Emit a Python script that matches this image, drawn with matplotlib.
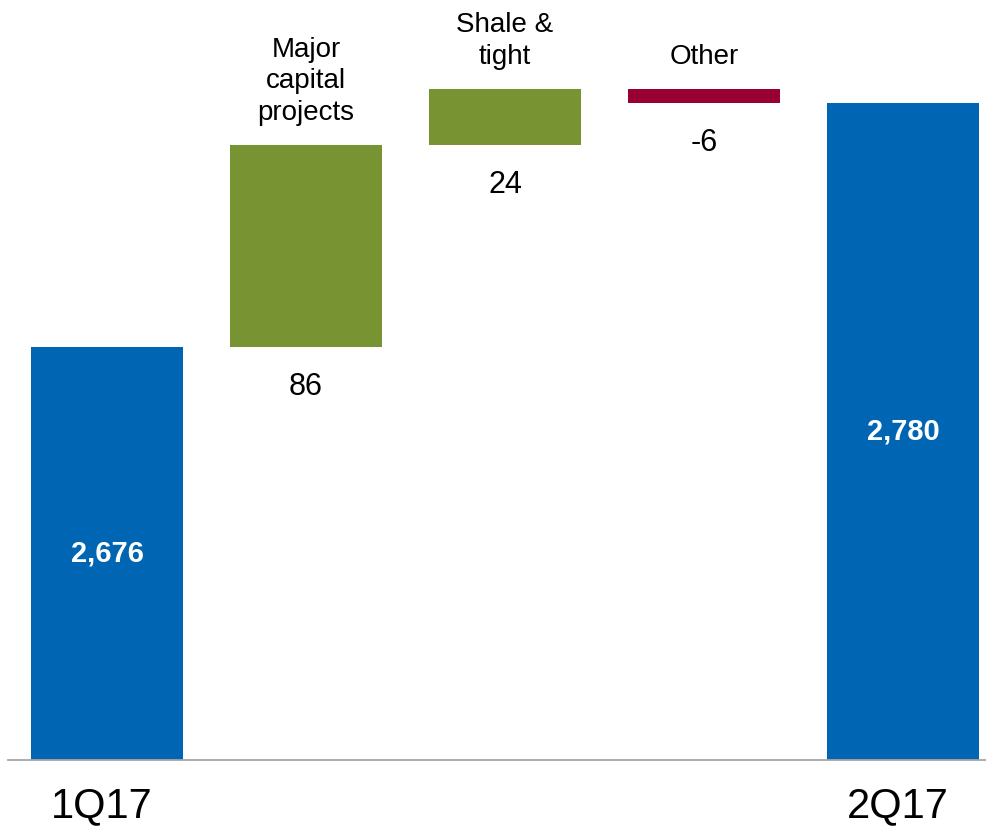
import matplotlib
matplotlib.use("Agg")
import matplotlib.pyplot as plt
import numpy as np

categories = ["1Q17", "Major\ncapital\nprojects", "Shale &\ntight", "Other", "2Q17"]
values = [2676, 86, 24, -6, 2780]
kinds = ["total", "delta", "delta", "delta", "total"]
value_labels = ["2,676", "86", "24", "-6", "2,780"]

BLUE = "#0066B3"
GREEN = "#789432"
RED = "#990031"

plt.rcParams["font.family"] = ["Liberation Sans", "DejaVu Sans"]

fig = plt.figure(figsize=(9.86, 8.27), dpi=100)
ax = fig.add_axes([8 / 986, 1 - 760 / 827, 1 - 8 / 986, 760 / 827])

base = 2500
ymax = base + 760 / 2.346
ax.set_ylim(base, ymax)
ax.set_xlim(-99 / 199, (986 - 107) / 199)

x = np.arange(len(categories))
bottoms, heights, colors = [], [], []
running = 0
for v, k in zip(values, kinds):
    if k == "total":
        bottoms.append(base)
        heights.append(v - base)
        colors.append(BLUE)
        running = v
    else:
        if v >= 0:
            bottoms.append(running)
            heights.append(v)
            colors.append(GREEN)
        else:
            bottoms.append(running + v)
            heights.append(-v)
            colors.append(RED)
        running += v

width = 152 / 199
ax.bar(x, heights, bottom=bottoms, width=width, color=colors, zorder=2)
ax.axhline(base, color="#a6a6a6", lw=1.3, zorder=3, clip_on=False)

for i, (c, k) in enumerate(zip(categories, kinds)):
    b, h = bottoms[i], heights[i]
    if k == "total":
        ax.text(x[i], b + h / 2, value_labels[i], ha="center", va="center",
                color="white", fontsize=21, fontweight="bold", zorder=4)
        ax.annotate(c, (x[i], base), xytext=(-4, -33), textcoords="offset points",
                    ha="center", va="center", fontsize=30, color="black",
                    annotation_clip=False)
    else:
        ax.annotate(c, (x[i], b + h), xytext=(0, 14), textcoords="offset points",
                    ha="center", va="bottom", fontsize=20, color="black",
                    linespacing=1.28)
        ax.annotate(value_labels[i], (x[i], b), xytext=(0, -18), textcoords="offset points",
                    ha="center", va="top", fontsize=22, color="black")

ax.axis("off")
fig.savefig("out.png", dpi=100)
